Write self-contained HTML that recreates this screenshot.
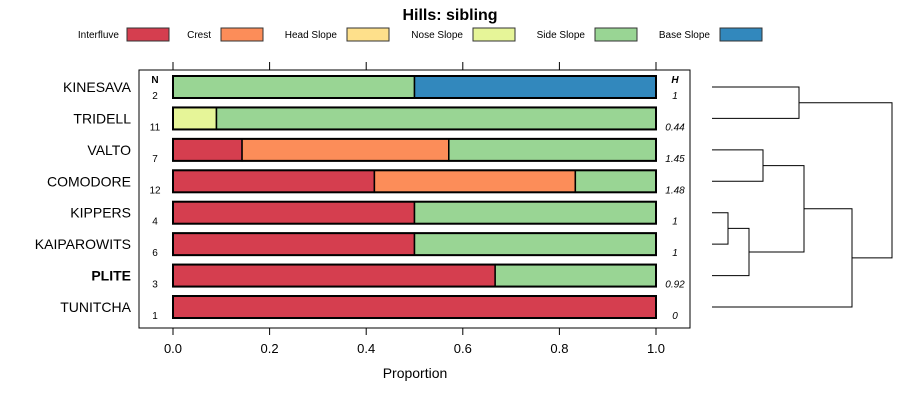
<!DOCTYPE html>
<html><head><meta charset="utf-8"><style>
body{margin:0;background:#fff}
svg text{font-family:"Liberation Sans",sans-serif}
</style></head><body>
<svg id="c" width="900" height="400" xmlns="http://www.w3.org/2000/svg">
<text x="450" y="20" text-anchor="middle" font-size="16" font-weight="bold">Hills: sibling</text>
<g id="legend"></g>
<rect x="139" y="70" width="551" height="258" fill="none" stroke="#000"/>
<g id="plot"></g>
<text x="415" y="378" text-anchor="middle" font-size="14">Proportion</text>
<text x="155" y="83" text-anchor="middle" font-size="10" font-weight="bold">N</text>
<text x="675" y="83" text-anchor="middle" font-size="10" font-weight="bold" font-style="italic">H</text>
<g id="dend" stroke="#000" fill="none"></g>
</svg>
<script>
const categories=["KINESAVA","TRIDELL","VALTO","COMODORE","KIPPERS","KAIPAROWITS","PLITE","TUNITCHA"];
const seriesNames=["Interfluve","Crest","Head Slope","Nose Slope","Side Slope","Base Slope"];
const interfluve=[0,0,0.143,0.417,0.5,0.5,0.667,1];
const crest=[0,0,0.428,0.416,0,0,0,0];
const headSlope=[0,0,0,0,0,0,0,0];
const noseSlope=[0,0.09,0,0,0,0,0,0];
const sideSlope=[0.5,0.91,0.429,0.167,0.5,0.5,0.333,0];
const baseSlope=[0.5,0,0,0,0,0,0,0];
const nValues=["2","11","7","12","4","6","3","1"];
const hValues=["1","0.44","1.45","1.48","1","1","0.92","0"];
const xTicks=[0,0.2,0.4,0.6,0.8,1.0];
const xTickLabels=["0.0","0.2","0.4","0.6","0.8","1.0"];
const colors=["#d53e4f","#fc8d59","#fee08b","#e6f598","#99d594","#3288bd"];
const NS="http://www.w3.org/2000/svg";
const X=v=>173+v*483;
const Y=i=>87+i*31.43;
function mk(t,a,p){const e=document.createElementNS(NS,t);for(const k in a)e.setAttribute(k,a[k]);p.appendChild(e);return e;}
const plot=document.getElementById('plot');
const series=[interfluve,crest,headSlope,noseSlope,sideSlope,baseSlope];
xTicks.forEach((t,i)=>{
 let l=mk('line',{x1:X(t),x2:X(t),y1:62,y2:70,stroke:'#000'},plot);
 
 
 let b=mk('line',{x1:X(t),x2:X(t),y1:328,y2:335,stroke:'#000'},plot);
 
 
 let tx=mk('text',{x:X(t),y:353,'text-anchor':'middle','font-size':13},plot);tx.textContent=xTickLabels[i];
 
 
});
categories.forEach((c,i)=>{
 const y=Y(i);
 let lab=mk('text',{x:131,y:y+5,'text-anchor':'end','font-size':14,'font-weight':c==='PLITE'?'bold':'normal'},plot);lab.textContent=c;
 
 
 let cum=0;
 series.forEach((s,k)=>{
  const v=s[i]; if(v<=0)return;
  let r=mk('rect',{x:X(cum),y:y-11,width:X(cum+v)-X(cum),height:22,fill:colors[k],stroke:'#000','stroke-width':1.5},plot);
  
  
  cum+=v;
 });
 let o=mk('rect',{x:X(0),y:y-11,width:X(1)-X(0),height:22,fill:'none',stroke:'#000','stroke-width':2},plot);
 
 
 let n=mk('text',{x:155,y:y+12,'text-anchor':'middle','font-size':10},plot);n.textContent=nValues[i];
 
 
 let h=mk('text',{x:675,y:y+12,'text-anchor':'middle','font-size':10,'font-style':'italic'},plot);h.textContent=hValues[i];
 
 
});
const lg=document.getElementById('legend');
const lgText=[119,211,337,463,585,710], lgBox=[127,221,347,473,595,720];
seriesNames.forEach((s,k)=>{
 let t=mk('text',{x:lgText[k],y:38,'text-anchor':'end','font-size':10},lg);t.textContent=s;
 
 
 let r=mk('rect',{x:lgBox[k],y:28,width:42,height:13,fill:colors[k],stroke:'#333'},lg);
 
 
});
const d=document.getElementById('dend');
function seg(p){let e=mk('path',{d:p},d);}
function join(y1,y2,x1a,x2a,xj){seg(`M${x1a} ${y1}H${xj}V${y2}H${x2a}`);return (y1+y2)/2;}
const L=712;
const a=join(Y(0),Y(1),L,L,799);
const b=join(Y(2),Y(3),L,L,763);
const c1=join(Y(4),Y(5),L,L,728);
const c2=join(c1,Y(6),728,L,749);
const e=join(b,c2,763,749,804);
const f=join(e,Y(7),804,L,852);
join(a,f,799,852,892);
</script>
</body></html>
